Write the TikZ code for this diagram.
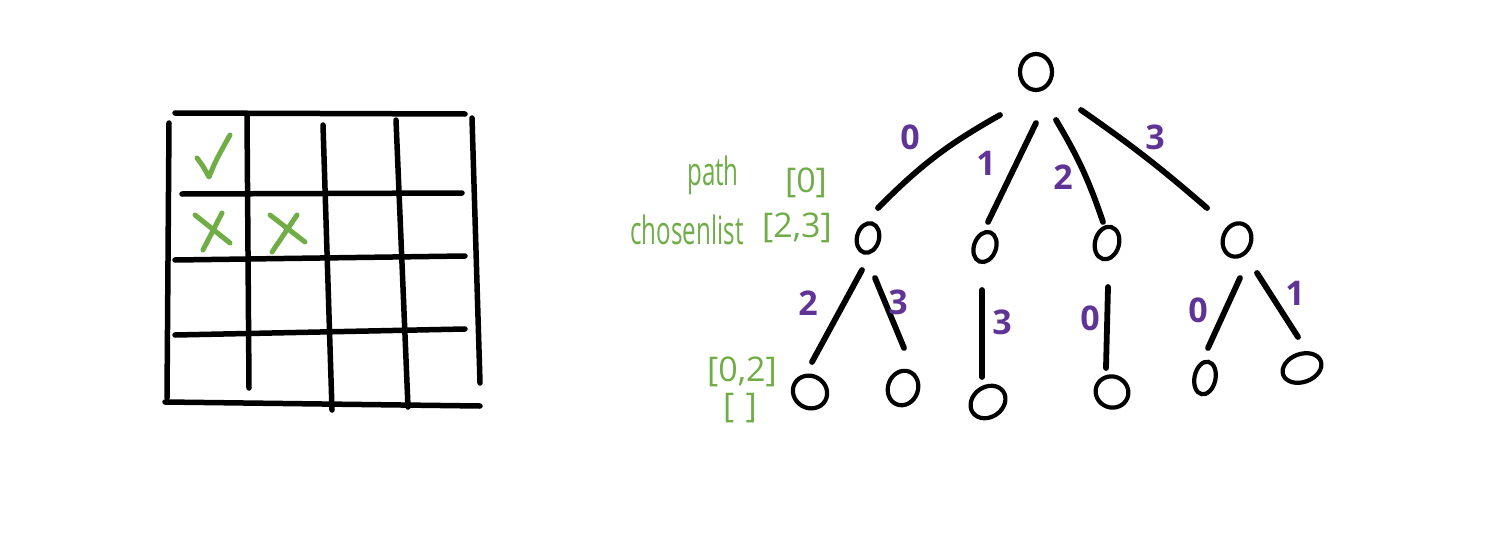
\documentclass[tikz,border=0pt]{standalone}
\usepackage{fontspec}
\setmainfont{Open Sans}
\newfontfamily\hand[FakeStretch=0.62]{Open Sans}
\newfontfamily\handw{Open Sans}
\usetikzlibrary{shapes.geometric,calc}
\definecolor{hgreen}{RGB}{112,173,71}
\definecolor{hpurple}{RGB}{96,52,150}
\begin{document}
\begin{tikzpicture}[x=1pt,y=-1pt,
  gridline/.style={line width=5.5pt,line cap=round},
  tnode/.style={ellipse,draw,line width=4.2pt,inner sep=0pt},
  edge/.style={line width=5.8pt,line cap=round},
  gmarkline/.style={draw=hgreen,line width=5pt,line cap=round,line join=round},
  lab/.style={text=hpurple,font=\handw\bfseries\fontsize{34}{34}\selectfont,inner sep=0pt},
  note/.style={text=hgreen,font=\hand\fontsize{39}{39}\selectfont,inner sep=0pt},
  notew/.style={text=hgreen,font=\handw\fontsize{34}{34}\selectfont,inner sep=0pt}]
\path[use as bounding box, fill=white] (0,0) rectangle (1491,551);

% grid
\draw[gridline] (175,113) -- (465,114);
\draw[gridline] (182,194) -- (462,193);
\draw[gridline] (175,260) -- (465,256);
\draw[gridline] (175,335) -- (465,329);
\draw[gridline] (165,402) -- (480,406);
\draw[gridline] (169,123) -- (167,398);
\draw[gridline] (247,115) -- (249,388);
\draw[gridline] (323,125) -- (332,410);
\draw[gridline] (396,120) -- (408,407);
\draw[gridline] (472,118) -- (480,383);
% marks
\draw[gmarkline] (197,158) .. controls (203,166) .. (209,177) .. controls (216,160) .. (230,135);
\draw[gmarkline] (195,215) -- (230,243);
\draw[gmarkline] (222,213) -- (203,250);
\draw[gmarkline] (270,215) -- (305,242);
\draw[gmarkline] (297,215) -- (272,252);

% tree nodes
\node[tnode,minimum width=32pt,minimum height=36pt] (r) at (1036,72) {};
\node[tnode,minimum width=22pt,minimum height=30pt,rotate=-15] (n0) at (868,238) {};
\node[tnode,minimum width=22pt,minimum height=31pt,rotate=-20] (n1) at (985,247) {};
\node[tnode,minimum width=24pt,minimum height=33pt,rotate=-15] (n2) at (1107,243) {};
\node[tnode,minimum width=28pt,minimum height=34pt,rotate=-20] (n3) at (1237,240) {};
\node[tnode,minimum width=35pt,minimum height=32pt,rotate=-30] (a) at (810,392) {};
\node[tnode,minimum width=30pt,minimum height=35pt,rotate=-20] (b) at (903,388) {};
\node[tnode,minimum width=37pt,minimum height=30pt,rotate=35] (c) at (988,402) {};
\node[tnode,minimum width=33pt,minimum height=31pt,rotate=-20] (d) at (1112,392) {};
\node[tnode,minimum width=21pt,minimum height=33pt,rotate=-12] (e) at (1205,378) {};
\node[tnode,minimum width=40pt,minimum height=28pt,rotate=20] (f) at (1302,368) {};

% edges
\draw[edge] ($(r)+(-36,43)$) to[bend right=8] ($(n0)+(10,-30)$);
\draw[edge] ($(r)+(0,51)$) -- ($(n1)+(3,-25)$);
\draw[edge] ($(r)+(20,48)$) to[bend left=6] ($(n2)+(-4,-21)$);
\draw[edge] ($(r)+(45,38)$) to[bend left=3] ($(n3)+(-30,-32)$);
\draw[edge] ($(n0)+(-6,32)$) -- ($(a)+(2,-30)$);
\draw[edge] ($(n0)+(7,40)$) -- ($(b)+(1,-40)$);
\draw[edge] ($(n1)+(-3,43)$) -- ($(c)+(-6,-25)$);
\draw[edge] ($(n2)+(1,44)$) -- ($(d)+(-6,-24)$);
\draw[edge] ($(n3)+(3,38)$) -- ($(e)+(3,-30)$);
\draw[edge] ($(n3)+(20,33)$) -- ($(f)+(-4,-31)$);

% edge labels
\node[lab] (l0) at (910,137) {0};
\node[lab] (l1) at (986,163) {1};
\node[lab] (l2) at (1063,177) {2};
\node[lab] (l3) at (1155,137) {3};
\node[lab] (m1) at (808,303) {2};
\node[lab] (m2) at (898,302) {3};
\node[lab] (m3) at (1002,322) {3};
\node[lab] (m4) at (1090,318) {0};
\node[lab] (m5) at (1198,310) {0};
\node[lab] (m6) at (1295,293) {1};

% green notes
\node[note] (pathlab) at (713,175) {path};
\node[notew] (pathval) at (806,183) {[0]};
\node[note] (cllab) at (687,230) {chosenlist};
\node[notew] (clval) at (797,228) {[2,3]};
\node[notew] (p2) at (742,372) {[0,2]};
\node[notew] (c2) at (740,408) {[\,\,]};
\end{tikzpicture}
\end{document}
